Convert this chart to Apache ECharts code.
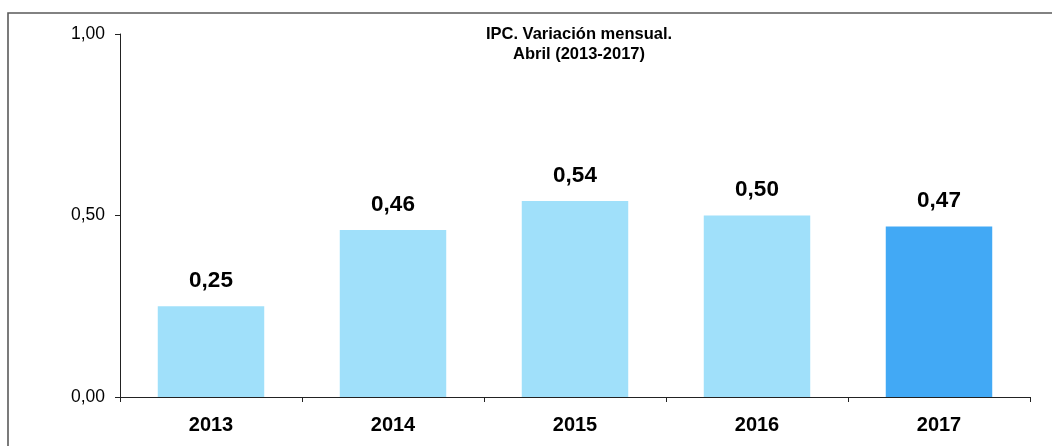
<!DOCTYPE html>
<html><head><meta charset="utf-8">
<script src="https://cdn.jsdelivr.net/npm/echarts@6/dist/echarts.min.js"></script>
<style>html,body{margin:0;padding:0;background:#fff}#c{width:1052px;height:446px}</style>
</head><body><div id="c"></div>
<script>
const categories = ['2013','2014','2015','2016','2017'];
const values = [0.25, 0.46, 0.54, 0.50, 0.47];
const yTicks = [0, 0.5, 1];
const titleLines = ['IPC. Variación mensual.', 'Abril (2013-2017)'];

const light = '#A0E0FA', dark = '#42A9F5';
const fmt = v => v.toFixed(2).replace('.', ',');
const chart = echarts.init(document.getElementById('c'));
chart.setOption({
  animation: false,
  backgroundColor: '#fff',
  title: {
    text: titleLines.join('\n'),
    left: 574, top: 19, textAlign: 'center',
    textStyle: {fontFamily: 'Liberation Sans', fontWeight: 'bold', fontSize: 16.5, color: '#000', lineHeight: 20}
  },
  graphic: [{type: 'rect', shape: {x: 8, y: 13, width: 1200, height: 600}, style: {fill: 'none', stroke: '#5a5a5a', lineWidth: 1.6}, silent: true, z: -1}],
  grid: {left: 120, right: 22, top: 34, bottom: 49},
  xAxis: {
    type: 'category', data: categories,
    axisLine: {lineStyle: {color: '#222', width: 1}},
    axisTick: {show: true, length: 5, inside: false, lineStyle: {color: '#222'}},
    axisLabel: {fontFamily: 'Liberation Sans', fontWeight: 'bold', fontSize: 20, color: '#000', margin: 18}
  },
  yAxis: {
    type: 'value', min: yTicks[0], max: yTicks[yTicks.length-1], interval: yTicks[1]-yTicks[0],
    axisLine: {show: true, lineStyle: {color: '#222', width: 1}},
    axisTick: {show: true, length: 5, lineStyle: {color: '#222'}},
    splitLine: {show: false},
    axisLabel: {fontFamily: 'Liberation Sans', fontSize: 17.5, color: '#000', margin: 15, formatter: v => fmt(v)}
  },
  series: [{
    type: 'bar', barCategoryGap: '41.5%',
    data: values.map((v, i) => ({value: v, itemStyle: {color: i === values.length-1 ? dark : light}})),
    label: {show: true, position: 'top', distance: 14, fontFamily: 'Liberation Sans', fontWeight: 'bold', fontSize: 22.5, color: '#000', formatter: p => fmt(p.value)}
  }]
});
</script></body></html>
